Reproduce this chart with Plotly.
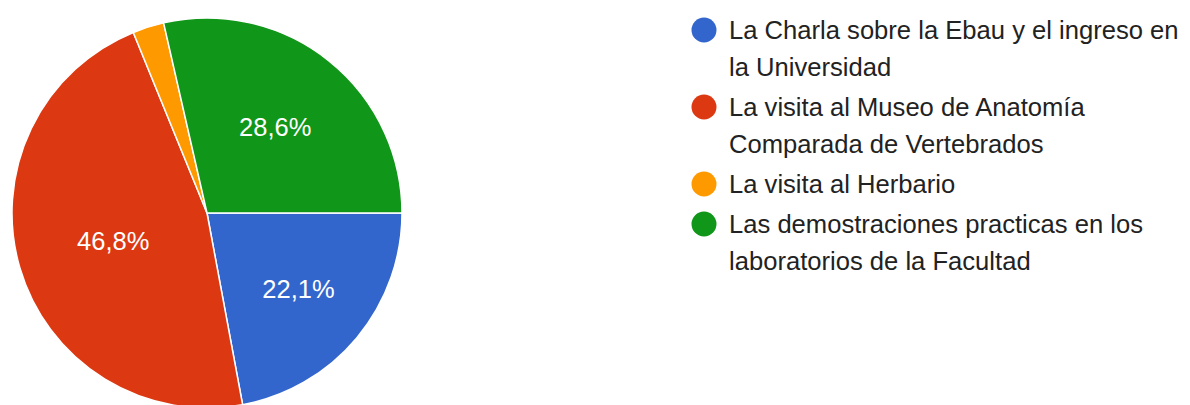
import plotly.graph_objects as go

# Respuestas por actividad (77 respuestas)
labels = [
    "La Charla sobre la Ebau y el ingreso en<br>la Universidad",
    "La visita al Museo de Anatomía<br>Comparada de Vertebrados",
    "La visita al Herbario",
    "Las demostraciones practicas en los<br>laboratorios de la Facultad",
]
counts = [17, 36, 2, 22]
colors = ["#3366cc", "#dc3912", "#ff9900", "#109618"]

W, H = 1190, 405
OFF = 8  # margen por defecto del <body>
FONT = "Liberation Sans, Arial, sans-serif"

total = sum(counts)
templates = ["%{percent:.1%}" if c / total >= 0.05 else "" for c in counts]

# círculo: centro (207, 213) y radio 195 en la captura
cx, cy, rad = 207 - OFF, 213 - OFF, 195

fig = go.Figure()
fig.add_trace(
    go.Pie(
        labels=labels,
        values=counts,
        sort=False,
        direction="clockwise",
        rotation=90,
        marker={"colors": colors, "line": {"color": "white", "width": 1.5}},
        texttemplate=templates,
        textposition="inside",
        insidetextorientation="horizontal",
        insidetextfont={"color": "white", "size": 25.5, "family": FONT},
        domain={"x": [(cx - rad) / W, (cx + rad) / W],
                "y": [1 - (cy + rad) / H, 1 - (cy - rad) / H]},
        showlegend=False,
        hoverinfo="label+value+percent",
    )
)

# leyenda con círculos (estilo Google Forms)
shapes, annotations = [], []
y = 30 - OFF
lx = 704 - OFF
for lab, col in zip(labels, colors):
    yc = 1 - y / H
    r = 12.5
    shapes.append(dict(
        type="circle", xref="paper", yref="paper",
        x0=(lx - r) / W, x1=(lx + r) / W,
        y0=yc - r / H, y1=yc + r / H,
        fillcolor=col, line={"width": 0},
    ))
    lines = lab.split("<br>")
    for i, line in enumerate(lines):
        annotations.append(dict(
            text=line, xref="paper", yref="paper",
            x=(727 - OFF) / W, y=1 - (y + 37 * i) / H,
            xanchor="left", yanchor="middle", showarrow=False,
            font={"size": 25.6, "color": "#222222", "family": FONT},
        ))
    y += 37 * (len(lines) - 1) + 40

fig.update_layout(
    width=W,
    height=H,
    margin={"l": 0, "r": 0, "t": 0, "b": 0},
    paper_bgcolor="white",
    plot_bgcolor="white",
    separators=",.",
    shapes=shapes,
    annotations=annotations,
)

fig.write_html("out.html")
